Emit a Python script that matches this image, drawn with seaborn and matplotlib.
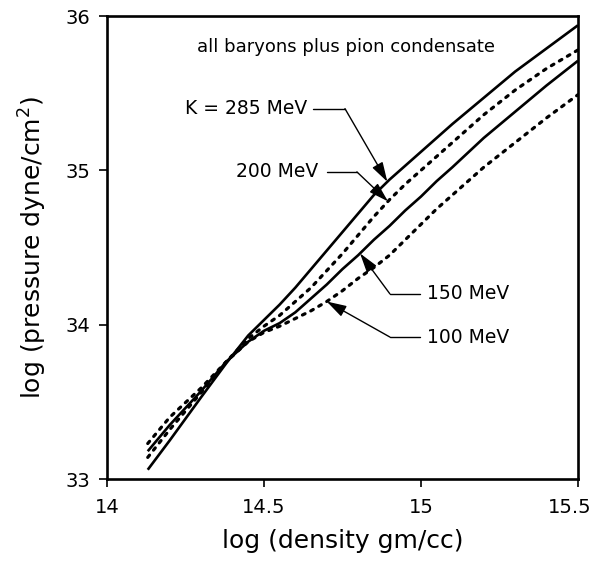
import numpy as np
import pandas as pd
import matplotlib
matplotlib.use("Agg")
import matplotlib.pyplot as plt
import matplotlib.transforms as mtransforms
import seaborn as sns

# log density (gm/cc) sample points shared by all four curves
log_density = [14.13, 14.2, 14.3, 14.38, 14.45, 14.5, 14.55, 14.6, 14.65,
               14.7, 14.75, 14.8, 14.85, 14.9, 14.95, 15.0, 15.05, 15.1,
               15.2, 15.3, 15.4, 15.5]

# log pressure (dyne/cm^2) for each compression modulus K
p_285 = [33.06, 33.25, 33.53, 33.75, 33.93, 34.03, 34.13, 34.24, 34.36,
         34.48, 34.60, 34.72, 34.84, 34.94, 35.03, 35.12, 35.21, 35.30,
         35.47, 35.64, 35.79, 35.94]
p_200 = [33.14, 33.32, 33.56, 33.76, 33.91, 33.99, 34.06, 34.15, 34.24,
         34.35, 34.46, 34.58, 34.70, 34.81, 34.91, 35.00, 35.09, 35.18,
         35.36, 35.52, 35.66, 35.78]
p_150 = [33.18, 33.35, 33.57, 33.76, 33.89, 33.96, 34.01, 34.08, 34.17,
         34.26, 34.36, 34.45, 34.55, 34.64, 34.74, 34.83, 34.93, 35.02,
         35.21, 35.38, 35.55, 35.71]
p_100 = [33.23, 33.40, 33.59, 33.76, 33.89, 33.95, 33.99, 34.04, 34.09,
         34.15, 34.22, 34.30, 34.37, 34.45, 34.55, 34.65, 34.75, 34.84,
         35.02, 35.18, 35.34, 35.49]

curve_labels = ["K = 285 MeV", "200 MeV", "150 MeV", "100 MeV"]
x_ticks = [14, 14.5, 15, 15.5]
x_tick_labels = ["14", "14.5", "15", "15.5"]
y_ticks = [33, 34, 35, 36]
y_tick_labels = ["33", "34", "35", "36"]

sns.set_theme(style="ticks")
plt.rcParams["font.family"] = ["DejaVu Sans"]
plt.rcParams["mathtext.default"] = "regular"

fig = plt.figure(figsize=(5.94, 5.66), dpi=100)
ax = fig.add_axes([0.180, 0.1537, 0.793, 0.818])

series = {"K = 285 MeV": p_285, "200 MeV": p_200,
          "150 MeV": p_150, "100 MeV": p_100}
styles = {"K = 285 MeV": dict(linestyle="-", lw=1.9),
          "200 MeV": dict(linestyle=(0, (0.9, 2.0)), lw=2.3),
          "150 MeV": dict(linestyle="-", lw=1.9),
          "100 MeV": dict(linestyle=(0, (0.9, 2.0)), lw=2.3)}

frames = []
for name in curve_labels:
    frames.append(pd.DataFrame({"density": log_density,
                                "pressure": series[name],
                                "K": name}))
data = pd.concat(frames, ignore_index=True)

for name in curve_labels:
    sub = data[data["K"] == name]
    sns.lineplot(data=sub, x="density", y="pressure", ax=ax, color="black",
                 dash_capstyle="round", solid_capstyle="butt",
                 solid_joinstyle="round",
                 estimator=None, sort=False, legend=False, **styles[name])

ax.set_xlim(14, 15.5)
ax.set_ylim(33, 36)
ax.set_xticks(x_ticks)
ax.set_xticklabels(x_tick_labels)
ax.set_yticks(y_ticks)
ax.set_yticklabels(y_tick_labels)
ax.tick_params(direction="out", length=6, width=1.2, labelsize=14,
               color="black", labelcolor="black")
ax.tick_params(axis="x", pad=8)
ax.tick_params(axis="y", pad=6)

# keep the last density label inside the figure
last = ax.get_xticklabels()[-1]
last.set_transform(last.get_transform() +
                   mtransforms.ScaledTranslation(-6 / 72, 0,
                                                 fig.dpi_scale_trans))

for side in ["left", "right", "top", "bottom"]:
    ax.spines[side].set_visible(True)
    ax.spines[side].set_linewidth(1.9)
    ax.spines[side].set_color("black")

ax.set_xlabel("log (density gm/cc)", fontsize=18, labelpad=8, color="black")
ax.set_ylabel("log (pressure dyne/cm$^2$)", fontsize=18, labelpad=12,
              color="black")

ax.text(14.76, 35.80, "all baryons plus pion condensate", ha="center",
        va="center", fontsize=13, color="black")

arrow_kw = dict(arrowstyle="-|>,head_length=1.0,head_width=0.3",
                color="black", lw=1.0, shrinkA=0, shrinkB=0)


def labelled_arrow(text, text_xy, ha, line_start, corner, tip_x, curve):
    tip = (tip_x, float(np.interp(tip_x, log_density, curve)))
    ax.text(text_xy[0], text_xy[1], text, ha=ha, va="center",
            fontsize=13.5, color="black")
    ax.plot([line_start, corner], [text_xy[1], text_xy[1]],
            color="black", lw=1.0)
    ax.annotate("", xy=tip, xytext=(corner, text_xy[1]), arrowprops=arrow_kw)


labelled_arrow("K = 285 MeV", (14.637, 35.40), "right", 14.656, 14.758,
               14.893, p_285)
labelled_arrow("200 MeV", (14.672, 34.99), "right", 14.700, 14.796,
               14.895, p_200)
labelled_arrow("150 MeV", (15.019, 34.20), "left", 14.997, 14.901,
               14.806, p_150)
labelled_arrow("100 MeV", (15.019, 33.92), "left", 14.997, 14.901,
               14.700, p_100)

fig.savefig("out.png", dpi=100)
